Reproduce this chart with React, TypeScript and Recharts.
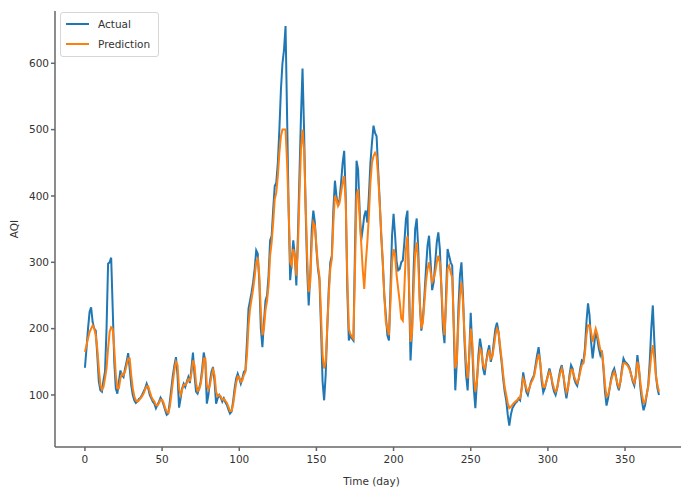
import { LineChart, Line, XAxis, YAxis, Legend, Label } from 'recharts';

// AQI per day
const actual = [
  141, 170, 200, 225, 232, 210, 200, 197, 160, 120,
  107, 105, 122, 135, 200, 298, 300, 307, 230, 150,
  110, 102, 120, 137, 130, 127, 140, 150, 163, 140,
  115, 100, 92, 88, 90, 94, 96, 100, 105, 110,
  117, 110, 100, 95, 90, 87, 80, 85, 90, 96,
  92, 85, 77, 70, 72, 90, 110, 130, 145, 157,
  130, 81, 95, 110, 117, 112, 120, 127, 118, 140,
  164, 130, 105, 102, 110, 120, 140, 164, 150, 87,
  100, 120, 135, 142, 120, 87, 95, 100, 96, 90,
  95, 89, 85, 78, 72, 75, 90, 110, 125, 132,
  125, 117, 125, 135, 137, 180, 230, 242, 255, 270,
  290, 318, 313, 270, 200, 172, 210, 242, 250, 280,
  333, 340, 380, 415, 420, 450, 500, 560, 600, 620,
  656, 520, 380, 273, 300, 333, 310, 265, 340, 430,
  520, 592, 500, 380, 290, 235, 280, 350, 378, 360,
  320, 290, 273, 200, 120, 92, 130, 200, 260, 300,
  310, 380, 423, 400, 385, 395, 420, 450, 468, 400,
  260, 182, 190, 185, 182, 320, 453, 440, 380, 333,
  350, 370, 378, 360, 400, 450, 480, 506, 495, 490,
  440, 393, 340, 300, 250, 220, 190, 182, 260, 340,
  373, 340, 300, 288, 290, 300, 303, 330, 365, 378,
  260, 152, 200, 290, 350, 366, 320, 240, 197, 215,
  250, 290, 325, 340, 300, 258, 270, 300, 330, 345,
  320, 260, 200, 178, 250, 320, 310, 300, 295, 200,
  107, 150, 230, 280, 300, 250, 180, 130, 107, 160,
  224, 170, 110, 80, 120, 160, 185, 170, 140, 130,
  150, 165, 175, 150, 160, 180, 200, 209, 195, 170,
  150, 125, 105, 92, 70, 54, 70, 80, 84, 88,
  90, 95, 92, 110, 134, 120, 105, 100, 110, 120,
  125, 130, 145, 160, 172, 150, 120, 104, 110, 120,
  130, 140, 130, 115, 105, 100, 110, 125, 138, 145,
  130, 110, 95, 110, 130, 145, 140, 125, 118, 114,
  125, 140, 152, 150, 170, 210, 238, 220, 180, 155,
  175, 197, 185, 170, 160, 167, 140, 105, 84, 95,
  110, 125, 135, 140, 130, 115, 107, 120, 140, 155,
  150, 148, 145, 140, 130, 120, 114, 130, 160, 140,
  110, 90, 77, 85, 100, 114, 150, 200, 235, 180,
  130, 110, 100,
];

const prediction = [
  165, 175, 185, 195, 200, 205, 200, 190, 170, 140,
  115, 108, 112, 125, 140, 170, 195, 202, 200, 170,
  130, 110, 110, 125, 132, 130, 135, 145, 155, 155,
  130, 110, 98, 92, 90, 92, 95, 98, 102, 108,
  113, 113, 105, 98, 93, 90, 85, 84, 88, 93,
  93, 88, 80, 75, 73, 82, 100, 120, 138, 150,
  145, 110, 100, 108, 115, 115, 118, 124, 122, 132,
  152, 145, 118, 106, 108, 116, 132, 155, 155, 115,
  108, 115, 128, 138, 130, 105, 98, 100, 98, 93,
  94, 91, 88, 82, 76, 76, 85, 102, 118, 128,
  127, 120, 122, 130, 135, 160, 205, 230, 245, 260,
  278, 300, 305, 280, 225, 190, 200, 228, 242, 265,
  310, 330, 360, 395, 405, 430, 465, 490, 500, 500,
  500, 450, 380, 300, 295, 320, 310, 280, 320, 400,
  470, 500, 470, 390, 310, 255, 270, 330, 360, 355,
  325, 295, 278, 220, 160, 140, 150, 200, 250, 290,
  305, 360, 400, 395, 385, 390, 405, 420, 430, 390,
  280, 200, 192, 188, 185, 290, 400, 410, 370, 330,
  290, 260, 300, 330, 370, 420, 450, 460, 465, 460,
  430, 390, 345, 300, 250, 210, 200, 190, 240, 300,
  320, 310, 280, 260, 240, 215, 212, 260, 320, 340,
  270, 180, 195, 260, 315, 330, 300, 240, 200, 210,
  240, 270, 290, 300, 285, 270, 275, 285, 300, 310,
  300, 265, 215, 190, 235, 290, 295, 285, 277, 210,
  140, 150, 210, 250, 270, 240, 190, 150, 125, 155,
  200, 180, 130, 105, 120, 150, 170, 165, 145, 140,
  150, 160, 168, 155, 158, 172, 190, 200, 195, 175,
  155, 132, 112, 100, 88, 80, 82, 85, 88, 90,
  92, 95, 95, 108, 125, 120, 110, 105, 110, 118,
  122, 128, 140, 152, 162, 150, 127, 112, 112, 120,
  128, 135, 130, 118, 110, 105, 110, 122, 133, 140,
  130, 115, 104, 110, 125, 138, 138, 128, 122, 118,
  124, 135, 145, 148, 162, 190, 205, 205, 195, 180,
  190, 200, 192, 180, 168, 165, 145, 115, 98, 100,
  110, 122, 130, 135, 128, 118, 112, 120, 135, 148,
  148, 146, 143, 138, 130, 122, 118, 128, 150, 140,
  118, 100, 88, 90, 100, 112, 135, 160, 175, 155,
  130, 115, 105,
];

const xTicks = [0, 50, 100, 150, 200, 250, 300, 350];
const yTicks = [100, 200, 300, 400, 500, 600];

const data = actual.map((v, i) => ({ day: i, actual: v, prediction: prediction[i] }));

const FONT = '"DejaVu Sans", sans-serif';
const AXIS = '#666';
const tickStyle = { fontSize: 10.5, fill: '#333', fontFamily: FONT };

const LegendBox = ({ payload }: { payload?: Array<{ value?: string; color?: string }> }) => (
  <div
    style={{
      border: '1px solid #d6d6d6',
      borderRadius: 3,
      background: 'rgba(255,255,255,0.85)',
      padding: '1px 8px 2px 5px',
      fontFamily: FONT,
    }}
  >
    {(payload || []).map((entry) => (
      <div key={entry.value} style={{ display: 'flex', alignItems: 'center', height: 20 }}>
        <svg width={23} height={4}>
          <line x1={0} y1={2} x2={23} y2={2} stroke={entry.color} strokeWidth={2} />
        </svg>
        <span style={{ marginLeft: 9, fontSize: 10.5, color: '#333' }}>{entry.value}</span>
      </div>
    ))}
  </div>
);

export default function App() {
  return (
    <div style={{ position: 'absolute', left: 0, top: 0, width: 681, height: 489, overflow: 'hidden', background: '#fff' }}>
      <LineChart width={700} height={489} data={data} margin={{ top: 11, right: 12, left: 0, bottom: 0 }}>
        <XAxis
          type="number"
          dataKey="day"
          domain={[-19.4, 390.8]}
          ticks={xTicks}
          allowDataOverflow
          height={42}
          tickSize={4}
          tickMargin={5}
          tick={tickStyle}
          stroke={AXIS}
          strokeWidth={1.5}
        >
          <Label
            value="Time (day)"
            position="insideBottom"
            offset={4}
            style={{ fontSize: 10.5, fill: '#333', fontFamily: FONT }}
          />
        </XAxis>
        <YAxis
          type="number"
          domain={[21.6, 678.8]}
          ticks={yTicks}
          allowDataOverflow
          width={55}
          tickSize={4}
          tickMargin={2}
          tick={tickStyle}
          stroke={AXIS}
          strokeWidth={1.5}
        >
          <Label
            content={({ viewBox }: any) => {
              const cx = 14;
              const cy = viewBox.y + viewBox.height / 2;
              return (
                <text
                  x={cx}
                  y={cy}
                  transform={`rotate(-90 ${cx} ${cy})`}
                  textAnchor="middle"
                  dominantBaseline="central"
                  style={{ fontSize: 10.5, fill: '#333', fontFamily: FONT }}
                >
                  AQI
                </text>
              );
            }}
          />
        </YAxis>
        <Legend
          layout="horizontal"
          align="center"
          verticalAlign="middle"
          content={<LegendBox />}
          wrapperStyle={{ left: 60, top: 12, width: 'auto', height: 'auto' }}
        />
        <Line
          name="Actual"
          dataKey="actual"
          type="linear"
          stroke="#1f77b4"
          strokeWidth={2}
          dot={false}
          isAnimationActive={false}
        />
        <Line
          name="Prediction"
          dataKey="prediction"
          type="linear"
          stroke="#ff7f0e"
          strokeWidth={2}
          dot={false}
          isAnimationActive={false}
        />
      </LineChart>
    </div>
  );
}
